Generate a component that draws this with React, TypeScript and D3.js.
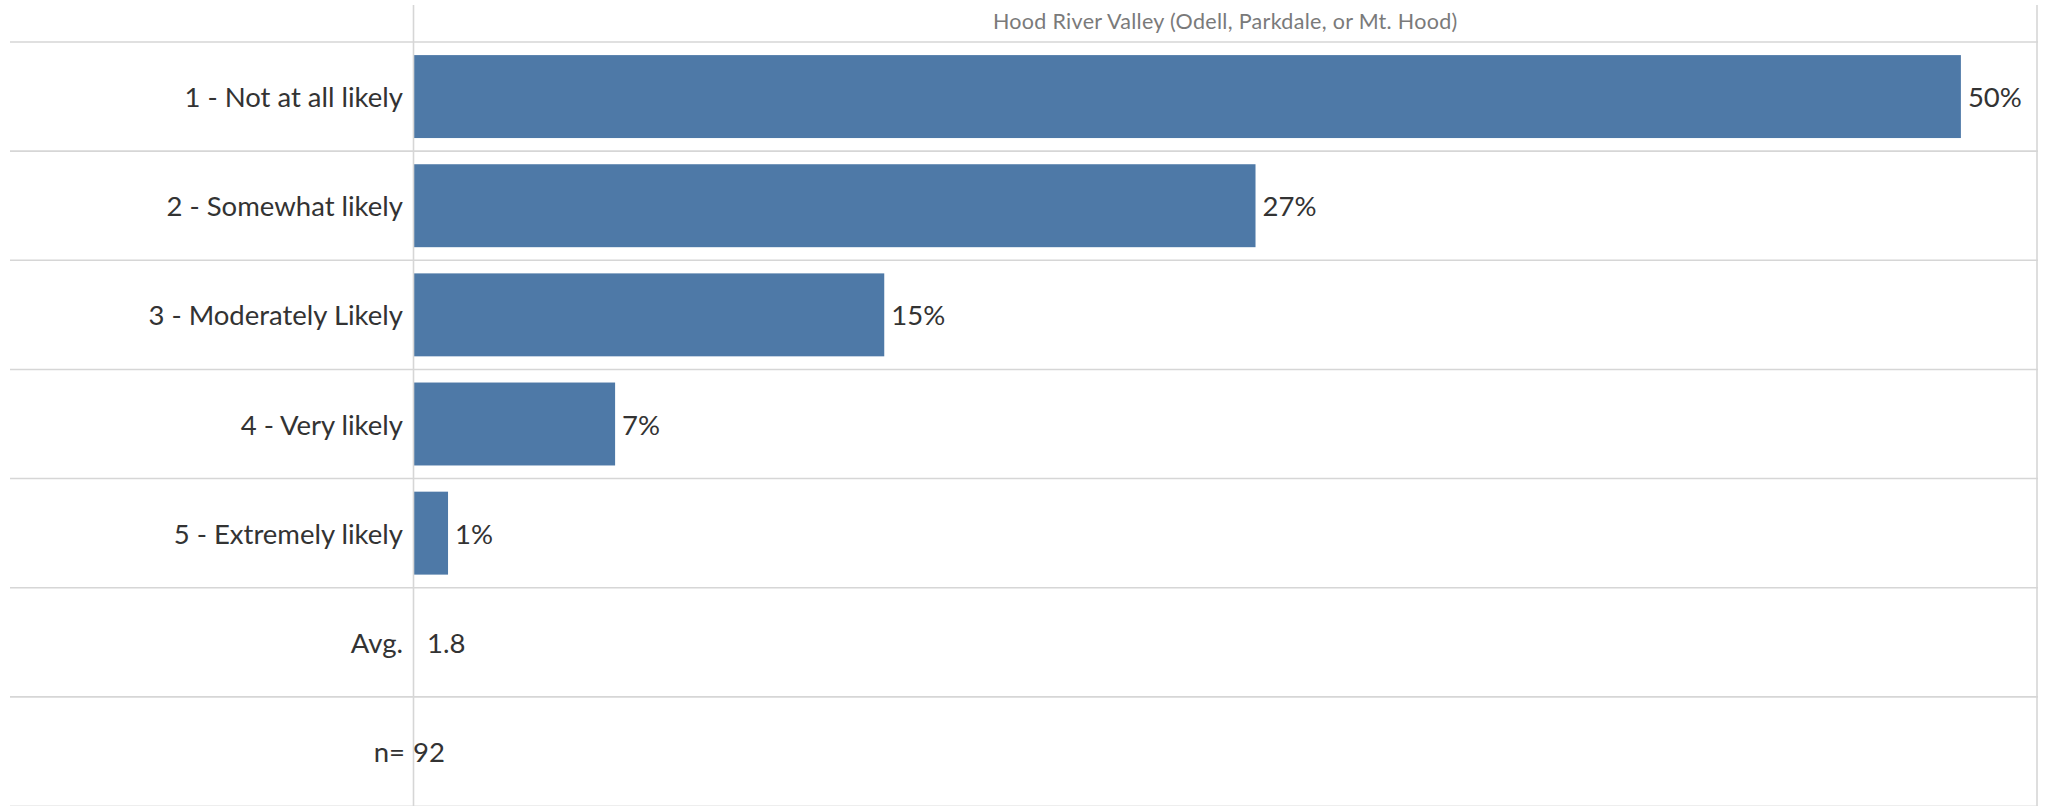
import React from "react";
import * as d3 from "d3";

const categories = [
  "1 - Not at all likely",
  "2 - Somewhat likely",
  "3 - Moderately Likely",
  "4 - Very likely",
  "5 - Extremely likely",
];
const percentValues = [50.0, 27.2, 15.2, 6.5, 1.1];
const percentLabels = ["50%", "27%", "15%", "7%", "1%"];
const avgLabel = "Avg.";
const avgValue = "1.8";
const nLabel = "n=";
const nValue = "92";
const columnTitle = "Hood River Valley (Odell, Parkdale, or Mt. Hood)";

const W = 2045;
const H = 806;
const FONT = "Lato, 'Open Sans', sans-serif";

export default function App() {
  const axisX = 413.5;
  const rightX = 2037;
  const headerY = 42;
  const gridLeft = 10;

  const rows = [...categories, avgLabel, nLabel];
  const y = d3.scaleBand<string>().domain(rows).range([headerY, H]).paddingInner(0).paddingOuter(0);
  const x = d3.scaleLinear().domain([0, 52.46]).range([axisX + 0.5, rightX]);
  const bw = y.bandwidth();
  const inset = bw * 0.12;

  const lineColor = "#d6d6d6";
  const textColor = "#333333";
  const fs = 27.5;

  return (
    <svg width={W} height={H} style={{ position: "absolute", left: 0, top: 0, background: "#fff" }}>
      <text
        x={(axisX + rightX) / 2}
        y={24}
        textAnchor="middle"
        dominantBaseline="middle"
        fontFamily={FONT}
        fontSize={21.5}
        letterSpacing={0.3}
        fill="#7a7a7a"
      >
        {columnTitle}
      </text>

      {rows.map((r) => (
        <line
          key={"g" + r}
          x1={gridLeft}
          x2={rightX + 1}
          y1={y(r)!}
          y2={y(r)!}
          stroke={lineColor}
          strokeWidth={1.6}
        />
      ))}
      <line x1={gridLeft} x2={rightX + 1} y1={H - 0.5} y2={H - 0.5} stroke="#eee" strokeWidth={1} />

      {categories.map((c, i) => (
        <rect
          key={"b" + c}
          x={x(0)}
          y={y(c)! + inset}
          width={x(percentValues[i]) - x(0)}
          height={bw - 2 * inset}
          fill="#4e79a7"
        />
      ))}

      <line x1={axisX} x2={axisX} y1={5} y2={H} stroke={lineColor} strokeWidth={1.6} />
      <line x1={rightX} x2={rightX} y1={5} y2={H} stroke={lineColor} strokeWidth={1.6} />

      {categories.map((c) => (
        <text
          key={"l" + c}
          x={403}
          y={y(c)! + bw / 2}
          textAnchor="end"
          dominantBaseline="central"
          fontFamily={FONT}
          fontSize={fs}
          fill={textColor}
        >
          {c}
        </text>
      ))}

      {categories.map((c, i) => (
        <text
          key={"v" + c}
          x={x(percentValues[i]) + 7}
          y={y(c)! + bw / 2}
          textAnchor="start"
          dominantBaseline="central"
          fontFamily={FONT}
          fontSize={fs}
          fill={textColor}
        >
          {percentLabels[i]}
        </text>
      ))}

      <text
        x={403}
        y={y(avgLabel)! + bw / 2}
        textAnchor="end"
        dominantBaseline="central"
        fontFamily={FONT}
        fontSize={fs}
        fill={textColor}
      >
        {avgLabel}
      </text>
      <text
        x={427}
        y={y(avgLabel)! + bw / 2}
        textAnchor="start"
        dominantBaseline="central"
        fontFamily={FONT}
        fontSize={fs}
        fill={textColor}
      >
        {avgValue}
      </text>

      <text
        x={405}
        y={y(nLabel)! + bw / 2}
        textAnchor="end"
        dominantBaseline="central"
        fontFamily={FONT}
        fontSize={fs}
        fill={textColor}
      >
        {nLabel}
      </text>
      <text
        x={413}
        y={y(nLabel)! + bw / 2}
        textAnchor="start"
        dominantBaseline="central"
        fontFamily={FONT}
        fontSize={fs}
        fill={textColor}
      >
        {nValue}
      </text>
    </svg>
  );
}
